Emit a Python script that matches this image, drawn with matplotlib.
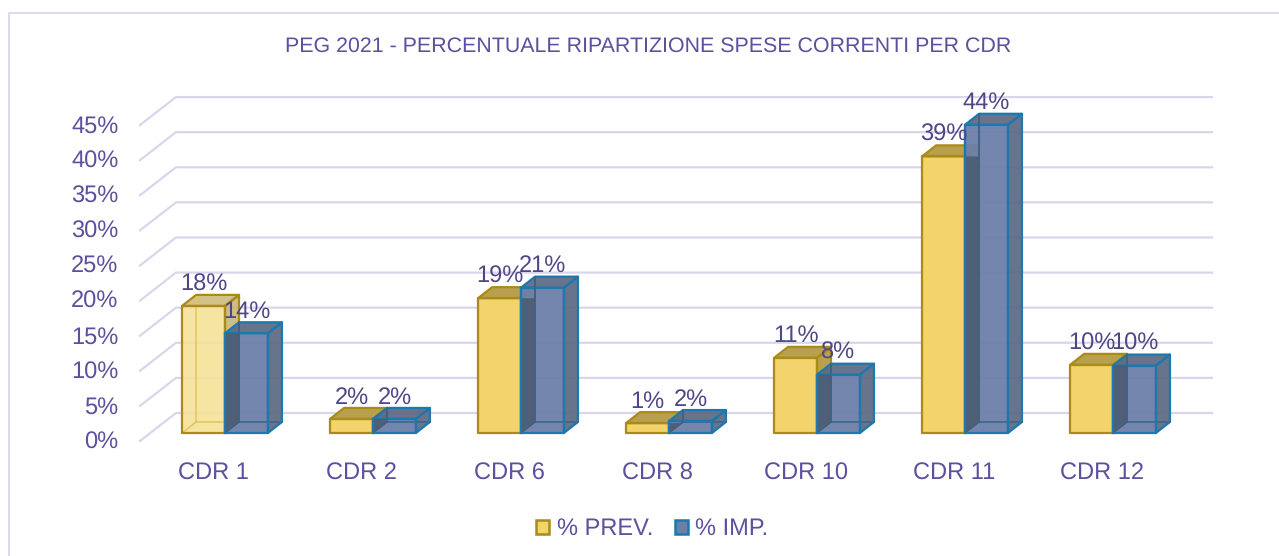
import matplotlib
matplotlib.use("Agg")
import matplotlib.pyplot as plt
from matplotlib.lines import Line2D
from matplotlib.patches import Patch, Polygon

plt.rcParams["font.family"] = ["Liberation Sans", "DejaVu Sans"]
plt.rcParams["text.hinting"] = "no_hinting"

# Data
categories = ["CDR 1", "CDR 2", "CDR 6", "CDR 8", "CDR 10", "CDR 11", "CDR 12"]
prev = [18.1, 2.0, 19.2, 1.4, 10.7, 39.4, 9.7]
imp = [14.2, 2.0, 20.7, 1.7, 8.3, 43.9, 9.6]
y_ticks = [0, 5, 10, 15, 20, 25, 30, 35, 40, 45]

TEXT = "#5b519f"
LABEL = "#4f4688"
GRID = "#d9d6ec"
YEL_EDGE = "#a98b17"
BLUE_EDGE = "#1c78ae"
BLUE_BACK = "#3a6488"

# 3D look: bar size and depth in data units
bar_w = 0.29
bar_dx = 0.095
bar_dy = 1.57
wall_dx = 0.243
wall_dy = 2.85
floor_y = -1.14


def draw_bar(ax, x0, h, front, side, top, edge, alpha=1.0, back_edge=None):
    x1 = x0 + bar_w
    front_pts = [(x0, 0), (x1, 0), (x1, h), (x0, h)]
    side_pts = [(x1, 0), (x1 + bar_dx, bar_dy), (x1 + bar_dx, h + bar_dy), (x1, h)]
    top_pts = [(x0, h), (x1, h), (x1 + bar_dx, h + bar_dy), (x0 + bar_dx, h + bar_dy)]
    for pts, col in ((side_pts, side), (top_pts, top), (front_pts, front)):
        ax.add_patch(Polygon(pts, facecolor=col, edgecolor="none", alpha=alpha, zorder=3))
    if back_edge:
        # back edges show through the faces
        ax.plot([x0, x0 + bar_dx, x1 + bar_dx], [0, bar_dy, bar_dy], color=back_edge, lw=1.1, zorder=3)
        ax.plot([x0 + bar_dx, x0 + bar_dx], [bar_dy, h + bar_dy], color=back_edge, lw=1.1, zorder=3)
    for pts in (side_pts, top_pts, front_pts):
        ax.add_patch(Polygon(pts, facecolor="none", edgecolor=edge, lw=1.6,
                             joinstyle="round", zorder=3))


fig = plt.figure(figsize=(12.79, 5.56), dpi=100)
ax = fig.add_axes([140 / 1279, 1 - 441 / 556, 1072 / 1279, 344 / 556])
ax.set_xlim(-0.574, 6.669)
ax.set_ylim(floor_y, 47.86)
for s in ax.spines.values():
    s.set_visible(False)

# Gridlines on wall and floor
xmin, xmax = ax.get_xlim()
for v in y_ticks:
    ax.plot([xmin, xmin + wall_dx, xmax],
            [v + floor_y, v + wall_dy, v + wall_dy],
            color=GRID, lw=1.6, zorder=1, clip_on=False)

for i, (p, m) in enumerate(zip(prev, imp)):
    if i == 0:
        draw_bar(ax, i - bar_w, p, "#f6e199", "#c9b678", "#cdbb7c", YEL_EDGE,
                 alpha=0.9, back_edge="#e3c65a")
    else:
        draw_bar(ax, i - bar_w, p, "#f3d46c", "#b9a04e", "#b9a04e", YEL_EDGE)
    draw_bar(ax, i, m, "#6c7fa9", "#5e6a85", "#5e6a85", BLUE_EDGE, alpha=0.94, back_edge=BLUE_BACK)
    # yellow side face seen through the blue front
    strip_top = min(p, m)
    ax.add_patch(Polygon([(i, 0), (i + bar_dx, bar_dy), (i + bar_dx, strip_top), (i, strip_top)],
                         facecolor="#4c5c70", edgecolor="none", alpha=0.9, zorder=3.5))
    ax.plot([i, i], [0, m], color=BLUE_EDGE, lw=1.6, zorder=3.6)
    ax.plot([i + bar_dx, i + bar_dx], [bar_dy, m + bar_dy], color=BLUE_BACK, lw=1.1, zorder=3.6)
    ax.text(i - bar_w / 2, p + 3.1, f"{p:.0f}%", ha="center", va="center",
            fontsize=17, color=LABEL, zorder=5)
    ax.text(i + bar_w / 2, m + 3.1, f"{m:.0f}%", ha="center", va="center",
            fontsize=17, color=LABEL, zorder=5)

# tick labels sit on the front ends of the gridlines
ax.set_yticks([v + floor_y + 0.15 for v in y_ticks], [f"{v}%" for v in y_ticks])
ax.set_xticks([i - 0.075 for i in range(len(categories))], categories)
ax.tick_params(axis="both", length=0, labelsize=17, labelcolor=TEXT)
ax.tick_params(axis="y", pad=15.5)
ax.tick_params(axis="x", pad=15.5)

fig.text(648.5 / 1279, 1 - 46 / 556, "PEG 2021 - PERCENTUALE RIPARTIZIONE SPESE CORRENTI PER CDR",
         ha="center", va="center", fontsize=15.4, color=TEXT)

handles = [Patch(facecolor="#f3d46c", edgecolor=YEL_EDGE, lw=1.8),
           Patch(facecolor="#6c7fa9", edgecolor=BLUE_EDGE, lw=1.8)]
fig.legend(handles, ["% PREV.", "% IMP."], loc="center", bbox_to_anchor=(652.5 / 1279, 1 - 529 / 556),
           ncol=2, frameon=False, fontsize=17, labelcolor=TEXT, handlelength=0.55, handleheight=0.55,
           handletextpad=0.3, columnspacing=0.95)

# Chart frame: top and left only, runs off the picture
fig.add_artist(Line2D([8.5 / 1279, 8.5 / 1279, 1], [0, 1 - 12.5 / 556, 1 - 12.5 / 556],
                      color=GRID, lw=1.3))

fig.savefig("out.png", dpi=100)
